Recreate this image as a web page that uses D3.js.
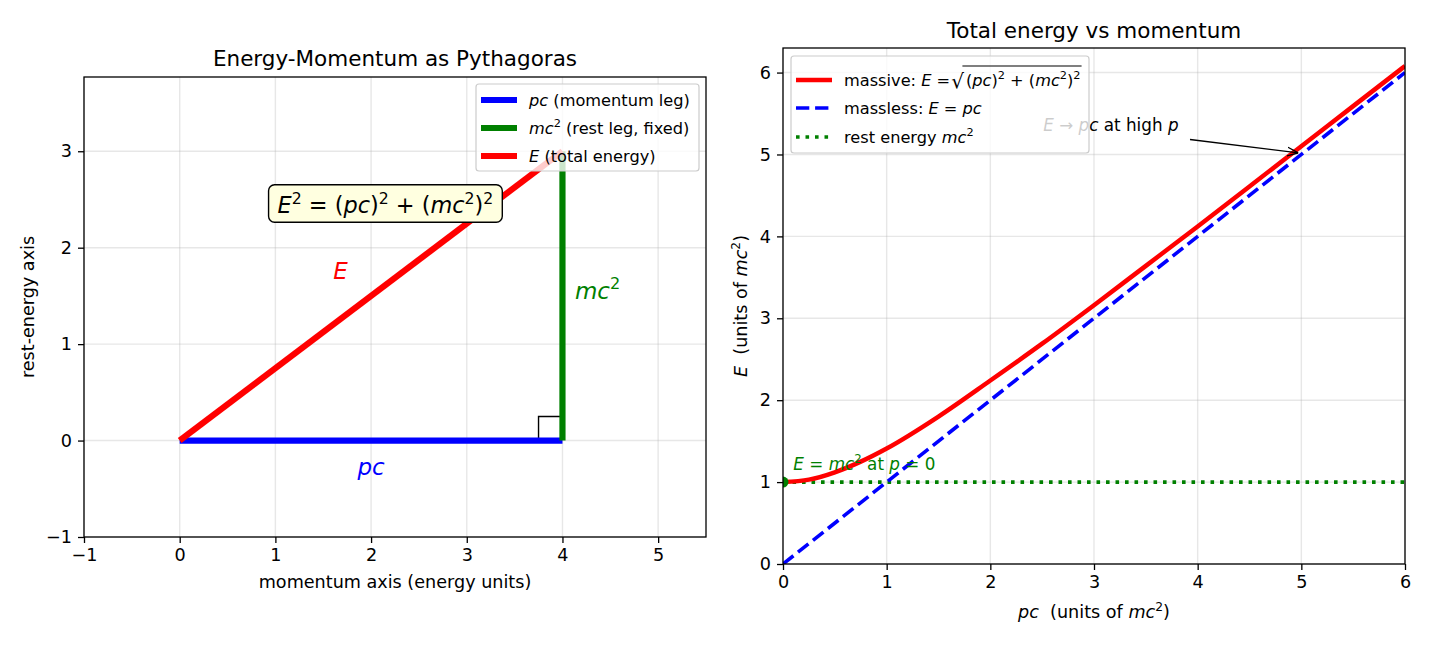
<!DOCTYPE html>
<html><head><meta charset="utf-8">
<script src="https://cdn.jsdelivr.net/npm/d3@7"></script>
<style>body{margin:0;background:#fff}svg{font-family:"DejaVu Sans",sans-serif}</style>
</head><body><svg id="c" width="1430" height="650"></svg>
<script>
// ---- data ----
const leftXTicks = [-1,0,1,2,3,4,5];
const leftYTicks = [-1,0,1,2,3];
const pcLeg = [[0,0],[4,0]];
const restLeg = [[4,0],[4,3]];
const hyp = [[0,0],[4,3]];
const rightAngle = [[3.75,0],[3.75,0.25],[4,0.25]];
const rightTicks = [0,1,2,3,4,5,6];
const pValues = [0,0.25,0.5,0.75,1,1.5,2,2.5,3,3.5,4,4.5,5,5.5,6];
const eMassive = [1,1.03,1.12,1.25,1.41,1.80,2.24,2.69,3.16,3.64,4.12,4.61,5.10,5.59,6.08];
const masslessP = [0,6], masslessE = [0,6];
const restP = [0,6], restE = [1,1];

const svg = d3.select("#c");
const FS = 17.6;      // 10pt
const LFS = 16.2;     // 9pt legend
const TFS = 21.5;     // 12pt title
const NB = "\u00A0";

function mathText(g, x, y, segs, opts) {
  opts = opts || {};
  const base = opts.size || FS;
  const t = g.append("text").attr("x", x).attr("y", y)
    .attr("font-size", base).attr("fill", opts.fill || "#000")
    .attr("text-anchor", opts.anchor || "start");
  let up = false;
  segs.forEach(s => {
    const sp = t.append("tspan").text(s.t);
    if (s.i) sp.attr("font-style", "italic");
    if (s.sup && !up) { sp.attr("dy", -base*0.42).attr("font-size", base*0.7); up = true; }
    else if (s.sup) { sp.attr("font-size", base*0.7); }
    else if (!s.sup && up) { sp.attr("dy", base*0.42); up = false; }
  });
  return t;
}

function gridAndTicks(g, x, y, xt, yt, L, T, W, H) {
  xt.forEach(v => {
    g.append("line").attr("x1", x(v)).attr("x2", x(v)).attr("y1", T).attr("y2", T+H)
      .attr("stroke", "#b0b0b0").attr("stroke-opacity", 0.3).attr("stroke-width", 1.4);
  });
  yt.forEach(v => {
    g.append("line").attr("x1", L).attr("x2", L+W).attr("y1", y(v)).attr("y2", y(v))
      .attr("stroke", "#b0b0b0").attr("stroke-opacity", 0.3).attr("stroke-width", 1.4);
  });
}

function axes(g, x, y, xt, yt, L, T, W, H) {
  const fmt = d => d < 0 ? "\u2212" + Math.abs(d) : d;
  const xa = g.append("g").attr("transform", `translate(0,${T+H})`)
    .call(d3.axisBottom(x).tickValues(xt).tickFormat(fmt).tickSize(6).tickPadding(6));
  const ya = g.append("g").attr("transform", `translate(${L},0)`)
    .call(d3.axisLeft(y).tickValues(yt).tickFormat(fmt).tickSize(6).tickPadding(6));
  [xa, ya].forEach(a => {
    a.select(".domain").remove();
    a.selectAll("text").attr("font-size", FS).attr("font-family", "DejaVu Sans").attr("fill", "#000");
    a.selectAll("line").attr("stroke", "#000").attr("stroke-width", 1.3);
  });
  g.append("rect").attr("x", L).attr("y", T).attr("width", W).attr("height", H)
    .attr("fill", "none").attr("stroke", "#000").attr("stroke-width", 1.3);
}

// ================= LEFT =================
{
  const L = 84, T = 77, W = 622, H = 460;
  const x = d3.scaleLinear().domain([-1, 5.5]).range([L, L+W]);
  const y = d3.scaleLinear().domain([-1, 3.77]).range([T+H, T]);
  const g = svg.append("g");
  gridAndTicks(g, x, y, leftXTicks, leftYTicks, L, T, W, H);
  const line = d3.line().x(d => x(d[0])).y(d => y(d[1]));
  g.append("path").attr("d", line(rightAngle)).attr("fill", "none").attr("stroke", "#000").attr("stroke-width", 1.4);
  g.append("path").attr("d", line(pcLeg)).attr("stroke", "#0000ff").attr("stroke-width", 6.2).attr("fill", "none");
  g.append("path").attr("d", line(restLeg)).attr("stroke", "#008000").attr("stroke-width", 6.2).attr("fill", "none");
  g.append("path").attr("d", line(hyp)).attr("stroke", "#ff0000").attr("stroke-width", 6.2).attr("fill", "none");
  axes(g, x, y, leftXTicks, leftYTicks, L, T, W, H);

  // labels
  mathText(g, x(1.68), y(1.74)+6, [{t:"E", i:true}], {size:23, fill:"#ff0000", anchor:"middle"});
  mathText(g, x(4.13), y(1.53)+6, [{t:"mc", i:true},{t:"2", sup:true}], {size:23, fill:"#008000"});
  mathText(g, x(2.0), y(-0.28)+7, [{t:"pc", i:true}], {size:23, fill:"#0000ff", anchor:"middle"});

  // formula box
  const fb = g.append("g");
  const ft = mathText(fb, x(2.15), y(2.43)+7, [{t:"E", i:true},{t:"2", sup:true},{t:" = ("},{t:"pc", i:true},{t:")"},{t:"2", sup:true},{t:" + ("},{t:"mc", i:true},{t:"2", sup:true},{t:")"},{t:"2", sup:true}], {size:22.4, anchor:"middle"});
  const bb = ft.node().getBBox();
  fb.insert("rect", "text").attr("x", bb.x-9).attr("y", bb.y-4).attr("width", bb.width+18).attr("height", bb.height+8)
    .attr("rx", 6).attr("fill", "#ffffe0").attr("stroke", "#000").attr("stroke-width", 1.4);

  // title & axis labels
  g.append("text").attr("x", L+W/2).attr("y", 66).attr("text-anchor", "middle").attr("font-size", TFS).text("Energy-Momentum as Pythagoras");
  g.append("text").attr("x", L+W/2).attr("y", 588).attr("text-anchor", "middle").attr("font-size", FS).text("momentum axis (energy units)");
  g.append("text").attr("transform", `translate(34,${T+H/2}) rotate(-90)`).attr("text-anchor", "middle").attr("font-size", FS).text("rest-energy axis");

  // legend
  const lg = g.append("g");
  lg.append("rect").attr("x", 476).attr("y", 84).attr("width", 223).attr("height", 87).attr("rx", 3)
    .attr("fill", "#fff").attr("fill-opacity", 0.8).attr("stroke", "#cccccc").attr("stroke-width", 1.2);
  const items = [
    {c:"#0000ff", s:[{t:"pc", i:true},{t:" (momentum leg)"}]},
    {c:"#008000", s:[{t:"mc", i:true},{t:"2", sup:true},{t:" (rest leg, fixed)"}]},
    {c:"#ff0000", s:[{t:"E", i:true},{t:" (total energy)"}]}
  ];
  items.forEach((it, k) => {
    const yy = 100 + k*28;
    lg.append("line").attr("x1", 481).attr("x2", 517).attr("y1", yy).attr("y2", yy).attr("stroke", it.c).attr("stroke-width", 6.2);
    mathText(lg, 529, yy+5.5, it.s, {size:LFS});
  });
}

// ================= RIGHT =================
{
  const L = 783, T = 48, W = 622, H = 516;
  const x = d3.scaleLinear().domain([0, 6]).range([L, L+W]);
  const y = d3.scaleLinear().domain([0, 6.3]).range([T+H, T]);
  const g = svg.append("g");
  gridAndTicks(g, x, y, rightTicks, rightTicks, L, T, W, H);
  g.append("clipPath").attr("id", "clipR").append("rect").attr("x", L).attr("y", T).attr("width", W).attr("height", H);
  const pg = g.append("g").attr("clip-path", "url(#clipR)");
  const ln = d3.line().x(d => x(d[0])).y(d => y(d[1]));
  pg.append("path").attr("d", ln(restP.map((p,i)=>[p, restE[i]]))).attr("fill","none").attr("stroke","#008000")
    .attr("stroke-width", 3.6).attr("stroke-dasharray", "3.6,5.9");
  pg.append("path").attr("d", ln(masslessP.map((p,i)=>[p, masslessE[i]]))).attr("fill","none").attr("stroke","#0000ff")
    .attr("stroke-width", 3.6).attr("stroke-dasharray", "13.3,5.8");
  pg.append("path").attr("d", d3.line().curve(d3.curveMonotoneX).x(d => x(d[0])).y(d => y(d[1]))(pValues.map((p,i)=>[p, eMassive[i]])))
    .attr("fill","none").attr("stroke","#ff0000").attr("stroke-width", 4.5);
  pg.append("circle").attr("cx", x(0)).attr("cy", y(1)).attr("r", 5.5).attr("fill", "#008000");
  axes(g, x, y, rightTicks, rightTicks, L, T, W, H);

  // annotations
  mathText(g, x(0.1), y(1.15)+0.5, [{t:"E", i:true},{t:" = "},{t:"mc", i:true},{t:"2", sup:true},{t:" at "},{t:"p", i:true},{t:" = 0"}], {size:16.8, fill:"#008000"});
  mathText(g, x(2.51), 131, [{t:"E", i:true},{t:" \u2192 "},{t:"pc", i:true},{t:" at high "},{t:"p", i:true}], {size:16.8});
  g.append("defs").append("marker").attr("id","ah").attr("viewBox","0 0 10 10").attr("refX",10).attr("refY",5)
    .attr("markerWidth",11).attr("markerHeight",11).attr("markerUnits","userSpaceOnUse").attr("orient","auto")
    .append("path").attr("d","M0,1 L10,5 L0,9").attr("fill","none").attr("stroke","#000").attr("stroke-width",1.2);
  g.append("line").attr("x1", 1190).attr("y1", 139.5).attr("x2", x(5)-3).attr("y2", y(5.0)-1.5)
    .attr("stroke","#000").attr("stroke-width",1.3).attr("marker-end","url(#ah)");

  // title & labels
  g.append("text").attr("x", L+W/2).attr("y", 38).attr("text-anchor", "middle").attr("font-size", TFS).text("Total energy vs momentum");
  mathText(g, L+W/2, 618, [{t:"pc", i:true},{t:NB+NB+"(units of "},{t:"mc", i:true},{t:"2", sup:true},{t:")"}], {anchor:"middle"});
  const yl = g.append("g").attr("transform", `translate(747,${T+H/2}) rotate(-90)`);
  mathText(yl, 0, 0, [{t:"E", i:true},{t:NB+NB+"(units of "},{t:"mc", i:true},{t:"2", sup:true},{t:")"}], {anchor:"middle"});

  // legend
  const lg = g.append("g");
  lg.append("rect").attr("x", 791).attr("y", 56).attr("width", 298).attr("height", 97).attr("rx", 3)
    .attr("fill", "#fff").attr("fill-opacity", 0.8).attr("stroke", "#cccccc").attr("stroke-width", 1.2);
  const hx1 = 796, hx2 = 832;
  // item 1
  lg.append("line").attr("x1", hx1).attr("x2", hx2).attr("y1", 80).attr("y2", 80).attr("stroke", "#ff0000").attr("stroke-width", 4.5);
  const t1 = mathText(lg, 844, 85.5, [{t:"massive: "},{t:"E", i:true},{t:" = "}], {size:LFS});
  const w1 = t1.node().getComputedTextLength();
  const sq = lg.append("text").attr("x", 844 + w1 + 1).attr("y", 88).attr("font-size", 20).text("\u221A");
  const ws = sq.node().getComputedTextLength();
  const t2 = mathText(lg, 844 + w1 + ws + 3, 85.5, [{t:"("},{t:"pc", i:true},{t:")"},{t:"2", sup:true},{t:" + ("},{t:"mc", i:true},{t:"2", sup:true},{t:")"},{t:"2", sup:true}], {size:LFS});
  const w2 = t2.node().getComputedTextLength();
  lg.append("line").attr("x1", 844 + w1 + ws - 0.5).attr("x2", 844 + w1 + ws + 4 + w2).attr("y1", 66).attr("y2", 66)
    .attr("stroke", "#000").attr("stroke-width", 1.1);
  // item 2
  lg.append("line").attr("x1", hx1).attr("x2", hx2).attr("y1", 108).attr("y2", 108).attr("stroke", "#0000ff").attr("stroke-width", 3.6).attr("stroke-dasharray", "13.3,5.8");
  mathText(lg, 844, 113.5, [{t:"massless: "},{t:"E", i:true},{t:" = "},{t:"pc", i:true}], {size:LFS});
  // item 3
  lg.append("line").attr("x1", hx1).attr("x2", hx2).attr("y1", 137).attr("y2", 137).attr("stroke", "#008000").attr("stroke-width", 3.6).attr("stroke-dasharray", "3.6,5.9");
  mathText(lg, 844, 142.5, [{t:"rest energy "},{t:"mc", i:true},{t:"2", sup:true}], {size:LFS});
}
</script></body></html>
